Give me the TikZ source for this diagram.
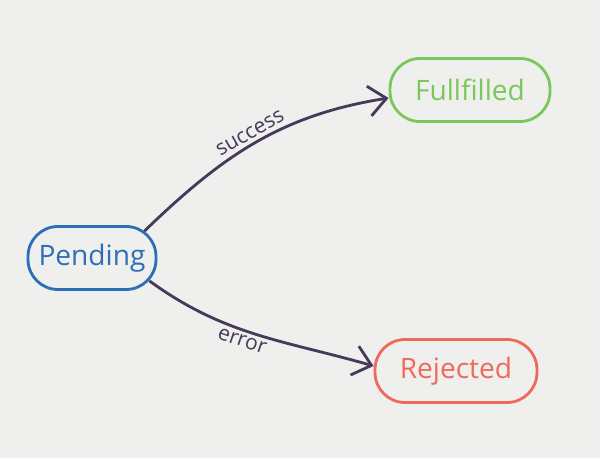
\documentclass[tikz,border=0pt]{standalone}
\usepackage{fontspec}
\setmainfont{Open Sans}
\usepackage{xcolor}
\usetikzlibrary{positioning, arrows.meta}

\definecolor{paper}{HTML}{EFEFEE}
\definecolor{pendblue}{HTML}{2C6FB7}
\definecolor{okgreen}{HTML}{7BC85A}
\definecolor{errred}{HTML}{F0695B}
\definecolor{ink}{HTML}{46395A}

\tikzset{
  state/.style={rectangle, rounded corners=0.6cm, draw, line width=1.6pt,
    inner sep=0pt, minimum height=1.26cm, font=\fontsize{16}{19}\selectfont},
  flow/.style={ink, line width=1.6pt, -{Straight Barb[length=3.5mm,width=6mm]}},
  flowlabel/.style={ink, font=\fontsize{12}{14}\selectfont, inner sep=2pt}
}

\begin{document}
\begin{tikzpicture}
  \fill[paper] (0,0) rectangle (12,-9.16);
  \useasboundingbox (0,0) rectangle (12,-9.16);
  \draw
    (1.84,-5.16) node[state, pendblue, minimum width=2.56cm] (pending){Pending}
    (9.4,-1.8) node[state, okgreen, minimum width=3.2cm] (fullfilled){Fullfilled}
    (9.12,-7.42) node[state, errred, minimum width=3.24cm] (rejected){Rejected};
  \begin{scope}[flow]
    \draw ([xshift=-0.26cm,yshift=-0.12cm]pending.north east) to[out=44, in=189]
      node[flowlabel, pos=0.5, above, sloped] (lblsuccess){success}
      ([yshift=-0.16cm]fullfilled.west);
    \draw ([xshift=-0.16cm,yshift=0.2cm]pending.south east) to[out=-36, in=164]
      node[flowlabel, pos=0.45, below, sloped] (lblerror){error}
      ([yshift=0.1cm]rejected.west);
  \end{scope}
\end{tikzpicture}
\end{document}
